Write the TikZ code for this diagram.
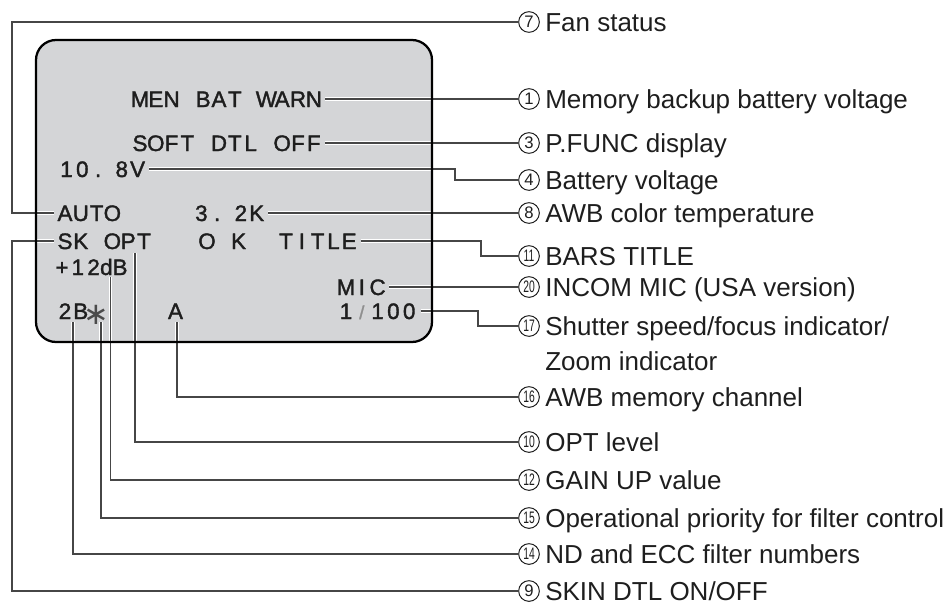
\documentclass[tikz,border=0pt]{standalone}
\usepackage{fontspec}
\setmainfont{Liberation Sans}
\newfontfamily\scrfont{Liberation Sans}[FakeBold=1.6]
\newfontfamily\djv{DejaVu Sans}
\usepackage{graphicx}
\definecolor{scrgray}{RGB}{212,213,215}
\definecolor{ink}{RGB}{30,30,30}
\definecolor{wire}{RGB}{70,70,70}
\newlength\cw
\setlength\cw{11.85pt}
\makeatletter
\def\scr#1{\scr@i#1\relax}
\def\scr@i#1{\ifx#1\relax\else
  \ifx#1|\hbox to\cw{}\else
  \ifx#1:\hbox to .5\cw{}\else
  \hbox to\cw{\hss#1\hss}\fi\fi
  \expandafter\scr@i\fi}
\makeatother
\newcommand\myast{{\djv\fontsize{23pt}{23pt}\selectfont ∗}}
\newcommand\two[1]{\scalebox{0.62}[1]{#1}}
\tikzset{
  scrtxt/.style={anchor=west, inner xsep=2.5pt, inner ysep=0pt, text height=12pt, text depth=0pt,
    font=\scrfont\fontsize{16.8pt}{16.8pt}\selectfont, text=ink},
  lbl/.style={anchor=west, inner sep=0pt, text height=14pt, text depth=0pt,
    font=\fontsize{19.5pt}{19.5pt}\selectfont, text=ink},
  num/.style={circle, draw=ink, line width=0.75pt, minimum width=15.5pt, minimum height=15.5pt, inner sep=0pt,
    font=\fontsize{12.5pt}{12.5pt}\selectfont, text=ink},
  wire/.style={draw=wire, line width=0.8pt, preaction={draw=white, line width=2.6pt}},
}
\begin{document}
\begin{tikzpicture}[x=0.75pt, y=-0.75pt]
\useasboundingbox (0,0) rectangle (948,604);
% screen
\fill[scrgray, rounded corners=15pt] (36,40) rectangle (432,342);
% screen texts
\node[scrtxt] (tmen) at (128.5,99) {\scr{MEN|BAT|WARN}};
\node[scrtxt] (tsoft) at (128.5,143) {\scr{SOFT|DTL|OFF}};
\node[scrtxt] (tvolt) at (55,169) {\scr{10.:8V}};
\node[scrtxt] (tauto) at (53.5,213) {\scr{AUTO}};
\node[scrtxt] (tk) at (182,213) {\scr{:3.:2K}};
\node[scrtxt] (tsk) at (53.5,241) {\scr{SK|OPT}};
\node[scrtxt] (ttitle) at (195.5,241) {\scr{O|K||TITLE}};
\node[scrtxt] (tdb) at (50.5,267) {\scr{+12}\kern-1pt dB};
\node[scrtxt] (tmic) at (334.5,287) {\scr{MIC}};
\node[scrtxt] (t2b) at (53.5,311) {\scr{2B}\hbox to\cw{\hss\raisebox{-3.8pt}{\textcolor{ink!80}{\myast}}\hss}};
\node[scrtxt] (ta) at (164,311) {\scr{A}};
\node[scrtxt] (tshut) at (334.5,311) {\scr{1}\hbox to\cw{\hss\textcolor{ink!50}{\fontsize{14pt}{14pt}\selectfont/}\hss}\scr{100}};
% circled numbers
\foreach \n/\t/\y in {c7/7/22, c1/1/99, c3/3/143, c4/4/180, c8/8/213, c11/\two{11}/256, c20/\two{20}/287,
  c17/\two{17}/326, c16/\two{16}/397, c10/\two{10}/442, c12/\two{12}/480, c15/\two{15}/518, c14/\two{14}/554, c9/9/591}
  \node[num] (\n) at (529,\y) {\t};
% labels
\foreach \n/\y/\t in {l7/22/{Fan status}, l1/99/{Memory backup battery voltage}, l3/143/{P.FUNC display},
  l4/180/{Battery voltage}, l8/213/{AWB color temperature}, l11/256/{BARS TITLE},
  l20/287/{INCOM MIC (USA version)}, l17/326/{Shutter speed/focus indicator/}, l17b/361/{Zoom indicator},
  l16/397/{AWB memory channel}, l10/442/{OPT level}, l12/480/{GAIN UP value},
  l15/518/{Operational priority for filter control}, l14/554/{ND and ECC filter numbers}, l9/591/{SKIN DTL ON/OFF}}
  \node[lbl] (\n) at (545,\y) {\t};
% anchor points
\coordinate (pt) at (135,253);
\coordinate (pdb) at (110.5,277);
\coordinate (p2b) at (73,322);
\coordinate (past) at (101,322);
\coordinate (pa) at (177,322);
% connectors
\path[wire] (tauto.west) -- (12,213) |- (c7.west);
\path[wire] (tmen.east) -- (c1.west);
\path[wire] (tsoft.east) -- (c3.west);
\path[wire] (tvolt.east) -- (455,169) |- (c4.west);
\path[wire] (tk.east) -- (c8.west);
\path[wire] (ttitle.east) -- (481,241) |- (c11.west);
\path[wire] (tsk.west) -- (12,241) |- (c9.west);
\path[wire] (tmic.east) -- (c20.west);
\path[wire] (tshut.east) -- (478,311) |- (c17.west);
\path[wire] (pa) |- (c16.west);
\path[wire] (pt) |- (c10.west);
\path[wire] (pdb) |- (c12.west);
\path[wire] (past) |- (c15.west);
\path[wire] (p2b) |- (c14.west);
% screen border
\draw[black, line width=1.7pt, rounded corners=15pt] (36,40) rectangle (432,342);
\end{tikzpicture}
\end{document}
